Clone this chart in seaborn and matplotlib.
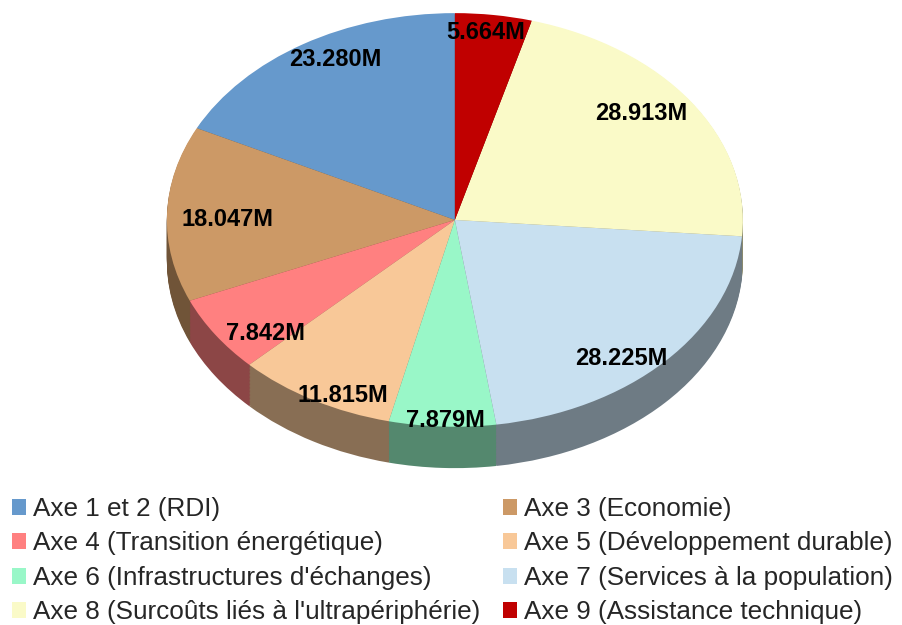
import numpy as np
import seaborn as sns
import matplotlib.pyplot as plt
from matplotlib.patches import Patch
from matplotlib.colors import to_rgb

# Data (millions)
axes_labels = ['Axe 1 et 2 (RDI)', 'Axe 3 (Economie)', 'Axe 4 (Transition énergétique)',
               'Axe 5 (Développement durable)', "Axe 6 (Infrastructures d'échanges)",
               'Axe 7 (Services à la population)', "Axe 8 (Surcoûts liés à l'ultrapériphérie)",
               'Axe 9 (Assistance technique)']
amounts = [23.280, 18.047, 7.842, 11.815, 7.879, 28.225, 28.913, 5.664]
slice_colors = ['#6699cc', '#cc9966', '#ff8080', '#f8c898', '#99f7c8', '#c8e0f0', '#fafac8', '#c00000']

sns.set_theme(style='white')
plt.rcParams['font.family'] = ['Liberation Sans', 'DejaVu Sans']

total = sum(amounts)
depth = 0.2

fig = plt.figure(figsize=(9.02, 6.25), dpi=100)
ax = fig.add_axes([0.185, 0.251, 0.6386, 0.728])

# side of the 3D pie: stacked darker pies
side_colors = [tuple(c * 0.55 for c in to_rgb(col)) for col in slice_colors]
for d in np.linspace(depth, 0.005, 30):
    ax.pie(amounts, colors=side_colors, startangle=90, counterclock=True,
           center=(0, -d), wedgeprops=dict(linewidth=0))

# top face
wedges, texts, autotexts = ax.pie(
    amounts, colors=slice_colors, startangle=90, counterclock=True,
    autopct=lambda p: f'{p * total / 100:.3f}M', pctdistance=0.85,
    wedgeprops=dict(linewidth=0),
    textprops=dict(fontsize=17, fontweight='bold', color='black'))

# labels sit a bit further out vertically (perspective)
for t in autotexts:
    x, y = t.get_position()
    t.set_position((x * 0.93, y * 1.11 - 0.027))

ax.set_aspect('auto')
ax.set_xlim(-1, 1)
ax.set_ylim(-1 - depth, 1)

# legend in row order
handles = [Patch(facecolor=c, edgecolor='none') for c in slice_colors]
order = [0, 2, 4, 6, 1, 3, 5, 7]
fig.legend([handles[i] for i in order], [axes_labels[i] for i in order],
           ncol=2, loc='upper left', bbox_to_anchor=(12 / 902, 1 - 497 / 625),
           frameon=False, fontsize=18.8, handlelength=0.55, handleheight=0.55,
           handletextpad=0.27, columnspacing=0.85, labelspacing=0.4,
           borderpad=0, borderaxespad=0)

fig.savefig('out.png', dpi=100)
